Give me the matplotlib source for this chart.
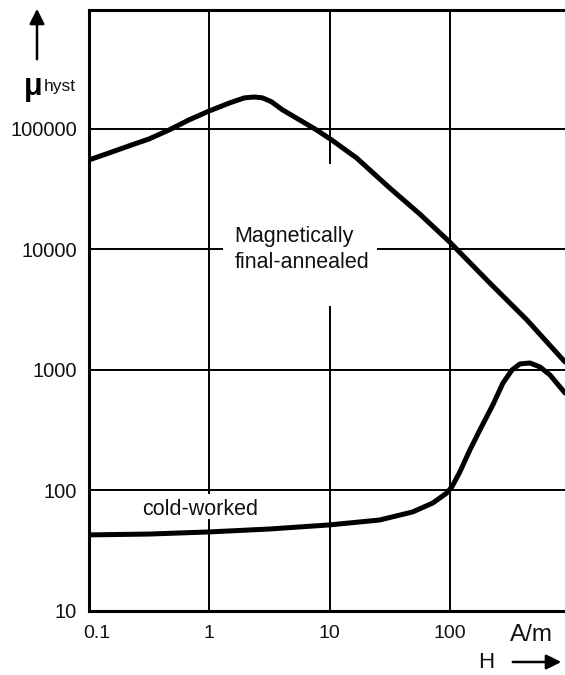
import matplotlib
matplotlib.use("Agg")
import matplotlib.pyplot as plt
import matplotlib.transforms as mtransforms
from matplotlib.patches import FancyArrowPatch

plt.rcParams['font.family'] = ['Liberation Sans', 'DejaVu Sans']

# magnetically final-annealed curve (H in A/m, mu_hyst)
h_annealed = [0.1, 0.147, 0.215, 0.316, 0.464, 0.681, 1.0, 1.468, 1.96, 2.37,
              2.77, 3.29, 4.06, 5.62, 7.79, 10.4, 16.8, 31.6, 56.2, 100, 215,
              438, 908]
mu_annealed = [55300, 63200, 72300, 82600, 98100, 119000, 141000, 164000,
               181000, 184000, 181000, 168000, 144000, 119000, 98100, 81100,
               57400, 32400, 19700, 11500, 5270, 2600, 1165]

# cold-worked curve
h_cold = [0.1, 0.316, 1.0, 3.16, 10, 17.8, 26.1, 49.2, 72.2, 94.4, 104, 121,
          147, 178, 228, 277, 329, 383, 464, 562, 681, 908]
mu_cold = [42.8, 43.5, 45.3, 47.9, 51.8, 54.8, 56.9, 66.4, 78.7, 95.3, 107,
           142, 217, 318, 513, 780, 1000, 1122, 1143, 1059, 909, 644]

x_ticks = [0.1, 1, 10, 100]
x_labels = ['0.1', '1', '10', '100']
y_ticks = [10, 100, 1000, 10000, 100000]
y_labels = ['10', '100', '1000', '10000', '100000']

ink = '#111111'

fig = plt.figure(figsize=(5.65, 6.75), dpi=100)
ax = fig.add_axes([89/565, 1 - 611/675, 1 - 89/565, 601/675])
ax.set_xscale('log')
ax.set_yscale('log')
ax.set_xlim(0.1, 908)
ax.set_ylim(10, 9.7e5)

# grid, with the gaps left open around the labels
gk = dict(color='black', lw=1.4, zorder=1)
ax.axhline(100, **gk)
ax.axhline(1000, **gk)
ax.axhline(100000, **gk)
ax.axhline(10000, 0, 0.279, **gk)
ax.axhline(10000, 0.607, 1, **gk)
ax.axvline(1, 0, 0.151, **gk)
ax.axvline(1, 0.196, 1, **gk)
ax.axvline(10, 0, 0.506, **gk)
ax.axvline(10, 0.745, 1, **gk)
ax.axvline(100, **gk)

ax.plot(h_annealed, mu_annealed, color='black', lw=3.6,
        solid_capstyle='round', solid_joinstyle='round', zorder=3)
ax.plot(h_cold, mu_cold, color='black', lw=3.6,
        solid_capstyle='round', solid_joinstyle='round', zorder=3)

for s in ['left', 'bottom', 'top']:
    ax.spines[s].set_linewidth(2.2)
ax.spines['right'].set_visible(False)

ax.set_xticks(x_ticks)
ax.set_xticklabels(x_labels)
ax.set_yticks(y_ticks)
ax.set_yticklabels(y_labels)
ax.minorticks_off()
ax.tick_params(axis='both', length=0, colors=ink)
ax.tick_params(axis='y', pad=8.5, labelsize=14.5)
ax.tick_params(axis='x', pad=10, labelsize=14)
lab0 = ax.get_xticklabels()[0]
lab0.set_transform(lab0.get_transform() +
                   mtransforms.ScaledTranslation(8/100, 0, fig.dpi_scale_trans))

ax.text(1.62, 10000, 'Magnetically\nfinal-annealed', fontsize=15.5,
        ha='left', va='center', linespacing=1.3, color=ink)
ax.text(0.277, 62.7, 'cold-worked', fontsize=15.5, ha='left',
        va='baseline', color=ink)

# axis titles with arrows
fig.text(510/565, 1 - 635/675, 'A/m', fontsize=17.5, ha='left', va='center',
         color=ink)
fig.text(486/565, 1 - 662/675, 'H', fontsize=16, ha='center', va='center',
         color=ink)
fig.patches.append(FancyArrowPatch(
    (510/565, 1 - 662/675), (564/565, 1 - 662/675), transform=fig.transFigure,
    arrowstyle='-|>,head_length=6,head_width=3', lw=1.8, color='black',
    mutation_scale=1.5))
fig.patches.append(FancyArrowPatch(
    (37/565, 1 - 62/675), (37/565, 1 - 6/675), transform=fig.transFigure,
    arrowstyle='-|>,head_length=6,head_width=3', lw=1.8, color='black',
    mutation_scale=1.5))
fig.text(24/565, 1 - 83/675, 'μ', fontsize=22, fontweight='bold',
         ha='left', va='center_baseline', color='black')
fig.text(44/565, 1 - 87/675, 'hyst', fontsize=12.5, ha='left', va='center',
         color=ink)

fig.savefig('out.png', dpi=100)
